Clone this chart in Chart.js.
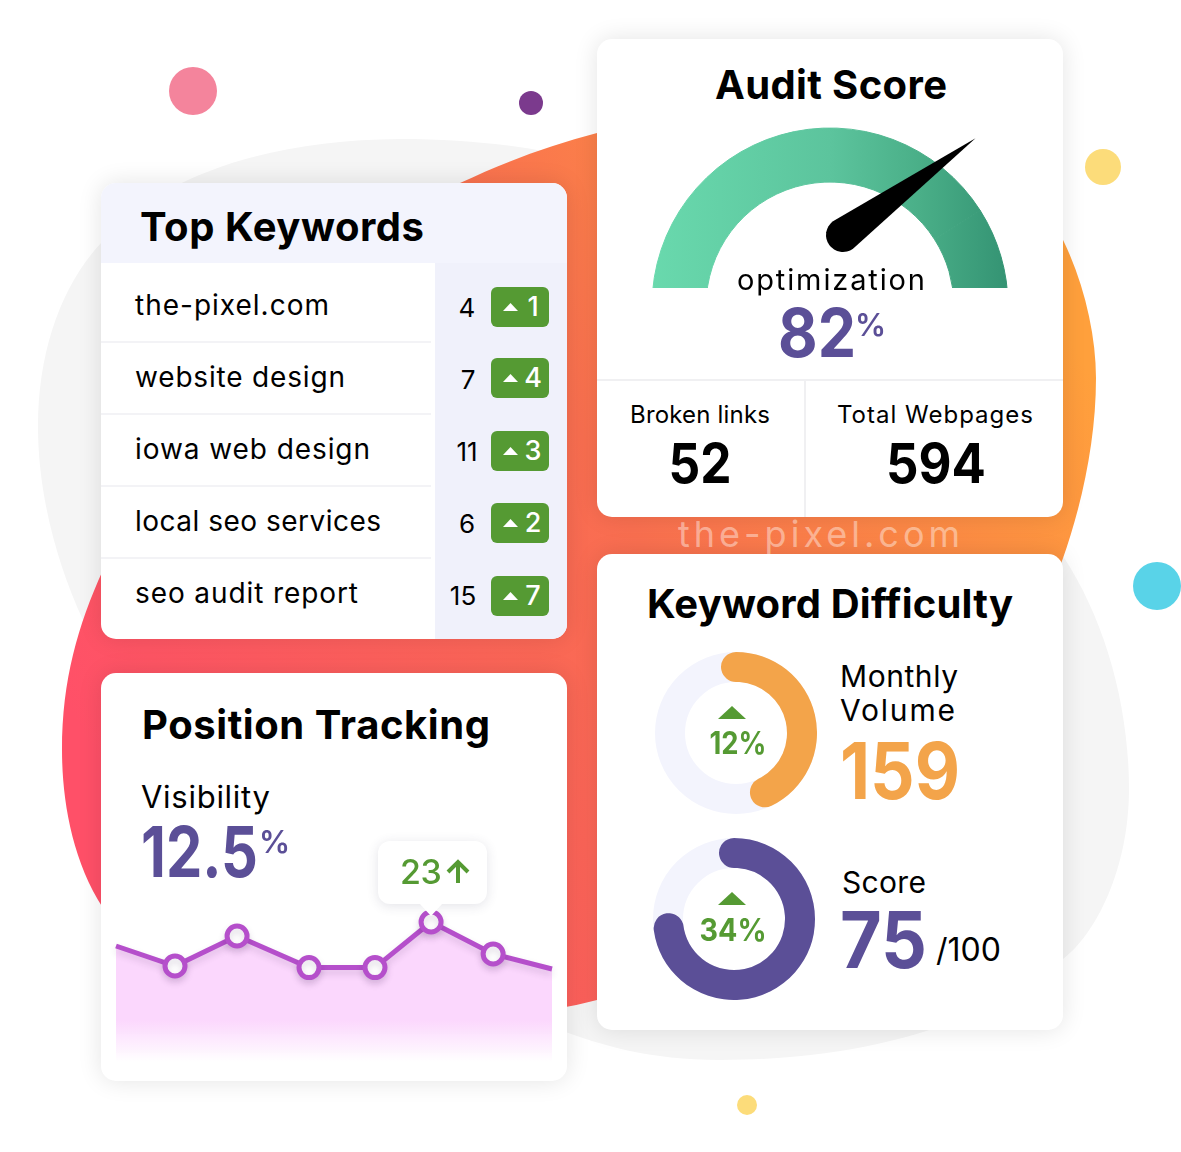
<!DOCTYPE html>
<html><head><meta charset="utf-8">
<script src="https://cdn.jsdelivr.net/npm/chart.js@4/dist/chart.umd.min.js"></script>
<style>
html,body{margin:0;padding:0;background:#fff;overflow:hidden}
#stage{position:relative;width:1181px;height:1152px;font-family:Inter,"Noto Sans",sans-serif;color:#000;overflow:hidden}
.card{position:absolute;background:#fff;border-radius:15px;box-shadow:0 0 24px rgba(0,0,0,.11);overflow:hidden}
.t{position:absolute;white-space:nowrap;transform:translateY(-50%);line-height:1}
.c{transform:translate(-50%,-50%);text-align:center}
.abs{position:absolute}
canvas{display:block}
</style></head><body>
<div id="stage">
<svg class="abs" style="left:0;top:0" width="1181" height="1152">
<defs><linearGradient id="g" x1="0.05" y1="0.75" x2="1" y2="0.3">
<stop offset="0" stop-color="#ff5068"/><stop offset=".55" stop-color="#f96f50"/><stop offset="1" stop-color="#ffa03c"/></linearGradient></defs>
<path fill="#f5f5f5" d="M38 427 C38 350 62 285 101 243 C160 175 270 140 400 139 C460 139 520 145 560 155 L1000 500 L1063 556 C1105 620 1129 705 1129 789 C1129 870 1095 935 1063 959 C1010 1005 900 1060 720 1060 C650 1060 600 1045 560 1030 L200 900 L83 620 C55 560 38 490 38 427Z"/>
<path fill="url(#g)" d="M597 133 C720 100 900 110 1040 200 C1075 250 1096 320 1096 378 C1096 440 1082 505 1062 561 L900 950 L597 1000 C560 1010 520 1015 470 1015 C300 1015 160 985 103 908 C72 860 62 800 62 750 C62 680 78 625 103 570 C170 400 320 240 460 183 C505 162 550 145 597 133Z"/>
<circle cx="193" cy="91" r="24" fill="#f4849c"/>
<circle cx="531" cy="103" r="12" fill="#7b3a8d"/>
<circle cx="1103" cy="167" r="18" fill="#fcdc7a"/>
<circle cx="1157" cy="586" r="24" fill="#59d3e8"/>
<circle cx="747" cy="1105" r="10" fill="#fcdc7a"/>
</svg>

<div class="card" id="kwCard" style="left:101px;top:183px;width:466px;height:456px">
  <div class="abs" style="left:0;top:0;width:466px;height:80px;background:#f3f4fd"></div>
  <div class="abs" style="left:334px;top:80px;width:132px;height:376px;background:#f0f1fb"></div>
</div>
<div class="card" id="posCard" style="left:101px;top:673px;width:466px;height:408px"></div>
<div class="card" id="auditCard" style="left:597px;top:39px;width:466px;height:478px">
  <div class="abs" style="left:0;top:340px;width:466px;height:2px;background:#f0f0f2"></div>
  <div class="abs" style="left:207px;top:341px;width:2px;height:137px;background:#f0f0f2"></div>
</div>
<div class="card" id="kdCard" style="left:597px;top:554px;width:466px;height:476px"></div>

<div class="abs" style="left:650px;top:126px;width:360px;height:162px;overflow:hidden"><canvas id="gauge" width="360" height="360" style="width:360px;height:360px"></canvas></div>
<div class="abs" style="left:655px;top:652px"><canvas id="d1" width="162" height="162" style="width:162px;height:162px"></canvas></div>
<div class="abs" style="left:653px;top:838px"><canvas id="d2" width="162" height="162" style="width:162px;height:162px"></canvas></div>
<div class="abs" style="left:101px;top:835px"><canvas id="line" width="466" height="235" style="width:466px;height:235px"></canvas></div>

<div id="labels"></div>

<div class="abs" style="left:378px;top:841px;width:109px;height:63px;background:#fff;border-radius:12px;box-shadow:0 2px 12px rgba(60,60,90,.14)"></div>
<svg class="abs" style="left:416px;top:903px" width="30" height="15"><path d="M3 0 L27 0 L15 13 Z" fill="#fff"/></svg>
<div class="t" style="left:400px;top:872px;font-size:34px;font-weight:500;color:#559a33;letter-spacing:-.5px">23</div>
<svg class="abs" style="left:445px;top:859px" width="26" height="26"><path d="M13 24 L13 3 M3 13 L13 3 L23 13" fill="none" stroke="#559a33" stroke-width="4"/></svg>
</div>

<script>
// ---- data ----
const keywords = ["the-pixel.com","website design","iowa web design","local seo services","seo audit report"];
const keywordWidths = [194,210,235,246,223];
const ranks = [4,7,11,6,15];
const changes = [1,4,3,2,7];
const gaugeValues = [82,18];
const difficultyVolume = [50,50];
const difficultyScore = [80,20];
const trackDays = [0,4.06,8.33,13.28,17.82,21.68,25.95,30];
const trackValues = [17,12,19.5,11.6,11.6,23,15,11.25];

Chart.defaults.animation=false;
const stage=document.getElementById('labels');
function T(x,y,s,size,weight,color,opts){
  opts=opts||{};
  const d=document.createElement('div');
  d.className='t'+(opts.center?' c':'');
  d.textContent=s;
  d.style.cssText+=`left:${x}px;top:${y}px;font-size:${size}px;font-weight:${weight};color:${color};letter-spacing:${opts.ls||0}px;`;
  stage.appendChild(d);
  if(opts.w){
    const w0=d.getBoundingClientRect().width;
    const ls=(opts.w-w0)/Math.max(s.length-1,1);
    d.style.letterSpacing=ls+'px';
    if(opts.center) d.style.marginLeft=(ls/2)+'px';
  }
  if(opts.sw){
    // narrow the glyphs themselves to the width
    const w0=d.getBoundingClientRect().width;
    const sx=opts.sw/w0;
    d.style.transformOrigin=opts.center?'center center':'left center';
    d.style.transform=(opts.center?'translate(-50%,-50%)':'translateY(-50%)')+` scaleX(${sx})`;
  }
}
function tri(x,y,w,h,color){
  const ns='http://www.w3.org/2000/svg';
  const s=document.createElementNS(ns,'svg');
  s.setAttribute('width',w);s.setAttribute('height',h);
  s.setAttribute('class','abs');s.style.left=x+'px';s.style.top=y+'px';
  const p=document.createElementNS(ns,'path');
  p.setAttribute('d',`M0 ${h} L${w/2} 0 L${w} ${h}Z`);p.setAttribute('fill',color);
  s.appendChild(p);stage.appendChild(s);
}
const purple='#5b4f97',green='#559a33',ink='#000';
T(678,534,'the-pixel.com',36,400,'rgba(255,255,255,.42)',{w:282});
T(140,227,'Top Keywords',40,700,ink,{w:284});
const rowY=[305,377,449,521,593], rankX=[467,468,467,467,463], badgeY=[287,358,431,503,576];
keywords.forEach((k,i)=>{
  T(135,rowY[i],k,28,400,ink,{w:keywordWidths[i]});
  T(rankX[i],rowY[i]+3,String(ranks[i]),26,400,ink,{center:true});
  if(i<4){const l=document.createElement('div');l.className='abs';l.style.cssText=`left:101px;top:${341+72*i}px;width:330px;height:2px;background:#f3f3f6`;stage.appendChild(l);}
  const b=document.createElement('div');b.className='abs';
  b.style.cssText=`left:491px;top:${badgeY[i]}px;width:58px;height:40px;background:${green};border-radius:6px`;
  stage.appendChild(b);
  tri(503,badgeY[i]+16,15,8,'#fff');
  T(533,badgeY[i]+19,String(changes[i]),27,500,'#fff',{center:true});
});
T(142,725,'Position Tracking',40,700,ink,{w:348});
T(141,796,'Visibility',31,400,ink,{w:129});
T(141,852,'12.5',70,700,purple,{sw:117});
T(259,841,'%',31,600,purple);
T(831,85,'Audit Score',40,700,ink,{center:true,w:232});
T(831,279,'optimization',29,400,ink,{center:true,w:188});
T(816.5,332,'82',68,700,purple,{center:true,sw:78});
T(855,324,'%',31,600,purple);
T(700,415,'Broken links',24,400,ink,{center:true,w:140});
T(935,415,'Total Webpages',24,400,ink,{center:true,w:196});
T(700,463,'52',55,700,ink,{center:true,sw:63});
T(935.5,463,'594',55,700,ink,{center:true,sw:100});
T(830,604,'Keyword Difficulty',40,700,ink,{center:true,w:366});
T(840,676,'Monthly',30,400,ink,{w:118});
T(840,710,'Volume',30,400,ink,{w:115});
T(840,771,'159',78,700,'#f3a44a',{sw:120});
T(842,882,'Score',30,400,ink,{w:84});
T(840,940,'75',78,700,purple,{sw:87});
T(936,950,'/100',32,400,ink,{w:65});
tri(718,706,28,13,green);
T(738,742,'12%',31,700,green,{center:true,sw:57});
tri(718,892,28,13,green);
T(733,929,'34%',31,700,green,{center:true,sw:67});

// ---- gauge ----
const gctx=document.getElementById('gauge').getContext('2d');
const gg=gctx.createLinearGradient(2,0,358,0);
gg.addColorStop(0,'#69d9ad');gg.addColorStop(.5,'#5cc49d');gg.addColorStop(.75,'#4aaf88');gg.addColorStop(1,'#349373');
const needle={id:'needle',afterDraw(c){
  const a0=c.getDatasetMeta(0).data[0];
  const ctx=c.ctx;
  const a=(1-gaugeValues[0]/100)*Math.PI+3.7*Math.PI/180;
  const px=a0.x+13,py=a0.y-71,r=17,len=164;
  const tx=px+len*Math.cos(a),ty=py-len*Math.sin(a);
  const th=-a;
  ctx.save();ctx.fillStyle='#000';ctx.beginPath();
  ctx.arc(px,py,r,th+Math.PI/2,th-Math.PI/2,false);
  ctx.lineTo(tx,ty);ctx.closePath();ctx.fill();ctx.restore();
}};
new Chart(gctx,{type:'doughnut',
  data:{labels:['score','rest','hidden'],datasets:[{data:[gaugeValues[0],gaugeValues[1],100],
    backgroundColor:[gg,gg,'rgba(0,0,0,0)'],borderColor:[gg,gg,'rgba(0,0,0,0)'],borderWidth:1}]},
  options:{responsive:false,rotation:-90,radius:178,cutout:125,plugins:{legend:{display:false},tooltip:{enabled:false}}},
  plugins:[needle]});

// ---- difficulty rings ----
const track={id:'track',beforeDatasetsDraw(c){
  const m=c.getDatasetMeta(0).data[0],ctx=c.ctx;
  const r=(m.innerRadius+m.outerRadius)/2;
  ctx.save();ctx.strokeStyle='#f3f4fd';ctx.lineWidth=m.outerRadius-m.innerRadius;
  ctx.beginPath();ctx.arc(m.x,m.y,r,0,Math.PI*2);ctx.stroke();ctx.restore();
}};
function ring(id,vals,color){
  new Chart(document.getElementById(id),{type:'doughnut',
    data:{labels:['value','rest'],datasets:[{data:vals,backgroundColor:[color,'rgba(0,0,0,0)'],borderWidth:0,borderRadius:[15,0]}]},
    options:{responsive:false,rotation:-13,radius:81,cutout:51,plugins:{legend:{display:false},tooltip:{enabled:false}}},
    plugins:[track]});
}
ring('d1',difficultyVolume,'#f3a44a');
ring('d2',difficultyScore,purple);

// ---- line ----
const lctx=document.getElementById('line').getContext('2d');
const fg=lctx.createLinearGradient(0,65,0,227);
fg.addColorStop(0,'#fbd7fd');fg.addColorStop(.74,'#fbd7fd');fg.addColorStop(1,'rgba(251,215,253,0)');
const shadow={id:'shadow',
  beforeDatasetDraw(c){c.ctx.save();c.ctx.shadowColor='rgba(70,40,90,.16)';c.ctx.shadowBlur=7;c.ctx.shadowOffsetY=4;},
  afterDatasetDraw(c){c.ctx.restore();}};
new Chart(lctx,{type:'line',
  data:{datasets:[{data:trackDays.map((d,i)=>({x:d,y:trackValues[i]})),
    borderColor:'#b54fcb',borderWidth:5,borderCapStyle:'butt',fill:'start',backgroundColor:fg,tension:0,
    pointRadius:trackDays.map((d,i)=>(i===0||i===trackDays.length-1)?0:10),
    pointBorderWidth:5,pointBackgroundColor:'#fff',pointBorderColor:'#b54fcb',clip:false}]},
  options:{responsive:false,layout:{padding:{left:15,right:15,top:65,bottom:8}},
    scales:{x:{type:'linear',display:false,min:0,max:30},y:{display:false,min:-12,max:28.5}},
    plugins:{legend:{display:false},tooltip:{enabled:false}}},
  plugins:[shadow]});
</script>
</body></html>
